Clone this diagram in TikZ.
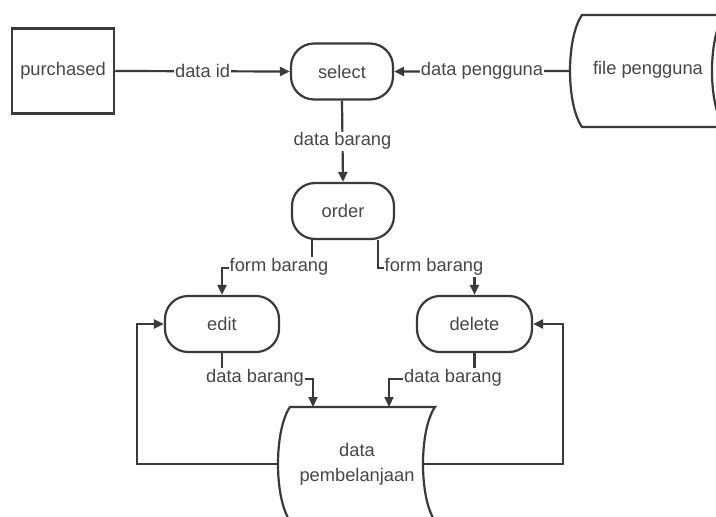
\documentclass[tikz,border=0pt]{standalone}
\usepackage{fontspec}
\setmainfont{Liberation Sans}
\usetikzlibrary{arrows.meta}
\definecolor{ln}{HTML}{3A3A3A}
\definecolor{tx}{HTML}{474747}
\begin{document}
\begin{tikzpicture}[x=1pt,y=-1pt,
  font=\fontsize{18.3}{25}\selectfont,
  proc/.style={draw=ln, line width=2.2pt, rounded corners=23pt, minimum width=102pt, minimum height=56pt, text=tx, inner sep=0pt},
  ent/.style={draw=ln, line width=2.5pt, minimum width=102pt, minimum height=85pt, text=tx, inner sep=0pt},
  store/.style={draw=ln, line width=2.2pt, fill=white},
  flow/.style={draw=ln, line width=2.2pt, -{Triangle[length=10pt,width=9pt]}},
  lbl/.style={fill=white, text=tx, inner sep=1pt},
  stext/.style={text=tx, align=center, inner sep=0pt}]
\useasboundingbox (0,0) rectangle (716,517);
\clip (0,0) rectangle (716,517);
\fill[white] (0,0) rectangle (716,517);

% stores
\draw[store] (582,15) -- (740,15) -- (740,127) -- (582,127) .. controls (566,104) and (566,38) .. (582,15) -- cycle;
\draw[store] (724,15) .. controls (708,38) and (708,104) .. (724,127);
\node[stext] (fp) at (648,70) {file pengguna};
\coordinate (fpL) at (570,71);

\draw[store] (290,407) -- (435,407) .. controls (419,430) and (419,498) .. (435,521) -- (290,521) .. controls (274,498) and (274,430) .. (290,407) -- cycle;
\node[stext] (dp) at (357,464) {data\\pembelanjaan};
\coordinate (dpL) at (277,464);
\coordinate (dpR) at (423,464);
\coordinate (dpT1) at (313,407);
\coordinate (dpT2) at (389,407);

% nodes
\node[ent] (pur) at (63,71) {purchased};
\node[proc] (sel) at (342,71.5) {select};
\node[proc] (ord) at (343,211) {order};
\node[proc, minimum width=114pt] (edit) at (222,324) {edit};
\node[proc, minimum width=115pt] (del) at (474.5,324) {delete};

% flows
\draw[flow] (pur.east) -- node[lbl]{data id} (sel.west);
\draw[flow] (fpL) -- node[lbl]{data pengguna} (sel.east);
\draw[flow] (sel.south) -- node[lbl]{data barang} (ord.north);
\draw[flow] ([xshift=-31pt]ord.south) -- ++(0,28) -| (edit.north);
\draw[flow] ([xshift=35pt]ord.south) -- ++(0,28) -| (del.north);
\draw[flow] (edit.south) -- ++(0,26) -| (dpT1);
\draw[flow] (del.south) -- ++(0,26) -| (dpT2);
\draw[flow] (dpL) -- ++(-140,0) |- (edit.west);
\draw[flow] (dpR) -- ++(140,0) |- (del.east);

% labels
\node[lbl] at (279,267) {form barang};
\node[lbl] at (434,267) {form barang};
\node[lbl] at (255,378) {data barang};
\node[lbl] at (453,378) {data barang};
\end{tikzpicture}
\end{document}
